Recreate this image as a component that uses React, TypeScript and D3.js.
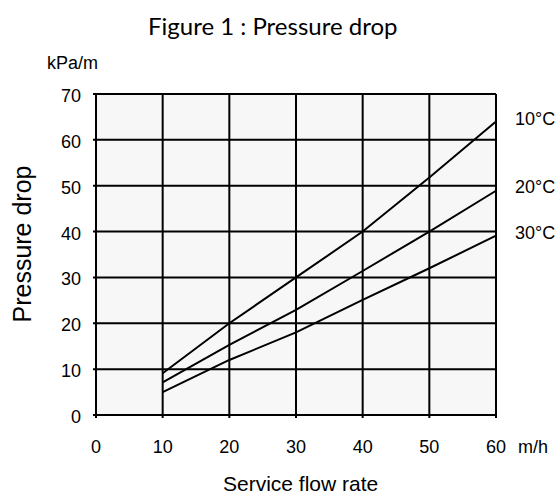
import { useEffect, useRef } from "react";
import * as d3 from "d3";

const flowRates = [10, 20, 30, 40, 50, 60];
const drop10 = [9.1, 20, 30, 40, 51.8, 64];
const drop20 = [7.1, 15.3, 22.9, 31.4, 40, 48.9];
const drop30 = [5, 12, 18, 25.1, 32, 39.1];
const seriesLabels = ["10°C", "20°C", "30°C"];
const xTicks = [0, 10, 20, 30, 40, 50, 60];
const yTicks = [0, 10, 20, 30, 40, 50, 60, 70];

export default function App() {
  const ref = useRef<SVGSVGElement>(null);

  useEffect(() => {
    const width = 558,
      height = 494,
      margin = { top: 94, right: 62, bottom: 79, left: 96 };

    const svg = d3.select(ref.current);
    svg.selectAll("*").remove();
    svg.attr("width", width).attr("height", height);

    const x = d3.scaleLinear().domain([0, 60]).range([margin.left, width - margin.right]);
    const y = d3.scaleLinear().domain([0, 70]).range([height - margin.bottom, margin.top]);

    // plot background
    svg
      .append("rect")
      .attr("x", x(0))
      .attr("y", y(70))
      .attr("width", x(60) - x(0))
      .attr("height", y(0) - y(70))
      .attr("fill", "#f7f7f7");

    // grid
    svg
      .append("g")
      .selectAll("line")
      .data(xTicks)
      .enter()
      .append("line")
      .attr("x1", (d) => x(d))
      .attr("x2", (d) => x(d))
      .attr("y1", y(70))
      .attr("y2", y(0) + 3)
      .attr("stroke", "#000")
      .attr("stroke-width", 2);

    svg
      .append("g")
      .selectAll("line")
      .data(yTicks)
      .enter()
      .append("line")
      .attr("x1", x(0) - 3)
      .attr("x2", x(60))
      .attr("y1", (d) => y(d))
      .attr("y2", (d) => y(d))
      .attr("stroke", "#000")
      .attr("stroke-width", 2);

    const font = "'Liberation Sans', Arial, sans-serif";

    // tick labels
    svg
      .append("g")
      .selectAll("text")
      .data(yTicks)
      .enter()
      .append("text")
      .attr("x", x(0) - 15)
      .attr("y", (d) => y(d) + 8)
      .attr("text-anchor", "end")
      .style("font-family", font)
      .style("font-size", "18px")
      .text((d) => d);

    svg
      .append("g")
      .selectAll("text")
      .data(xTicks)
      .enter()
      .append("text")
      .attr("x", (d) => x(d))
      .attr("y", y(0) + 38)
      .attr("text-anchor", "middle")
      .style("font-family", font)
      .style("font-size", "18px")
      .text((d) => d);

    svg
      .append("text")
      .attr("x", x(60) + 22)
      .attr("y", y(0) + 38)
      .style("font-family", font)
      .style("font-size", "18px")
      .text("m/h");

    svg
      .append("text")
      .attr("x", 47)
      .attr("y", 69)
      .style("font-family", font)
      .style("font-size", "18px")
      .text("kPa/m");

    // title
    svg
      .append("text")
      .attr("x", 148)
      .attr("y", 35)
      .style("font-family", "Lato, 'Open Sans', sans-serif")
      .style("font-size", "24px")
      .text("Figure 1 : Pressure drop");

    // axis titles
    svg
      .append("text")
      .attr("x", 223)
      .attr("y", 491)
      .style("font-family", font)
      .style("font-size", "21px")
      .text("Service flow rate");

    svg
      .append("text")
      .attr("transform", "rotate(-90)")
      .attr("x", -244)
      .attr("y", 31)
      .attr("text-anchor", "middle")
      .style("font-family", font)
      .style("font-size", "25px")
      .text("Pressure drop");

    // curves
    const line = d3
      .line<number>()
      .x((_, i) => x(flowRates[i]))
      .y((d) => y(d));

    const series = [drop10, drop20, drop30];
    series.forEach((s) => {
      svg
        .append("path")
        .datum(s)
        .attr("fill", "none")
        .attr("stroke", "#000")
        .attr("stroke-width", 2)
        .attr("d", line);
    });

    // series labels at the right
    const labelY = [65.5, 50.5, 40.5];
    svg
      .append("g")
      .selectAll("text")
      .data(seriesLabels)
      .enter()
      .append("text")
      .attr("x", x(60) + 19)
      .attr("y", (_, i) => y(labelY[i]) + 10)
      .style("font-family", font)
      .style("font-size", "18px")
      .text((d) => d);
  }, []);

  return (
    <svg
      ref={ref}
      style={{ position: "absolute", left: 0, top: 0, display: "block" }}
    />
  );
}
